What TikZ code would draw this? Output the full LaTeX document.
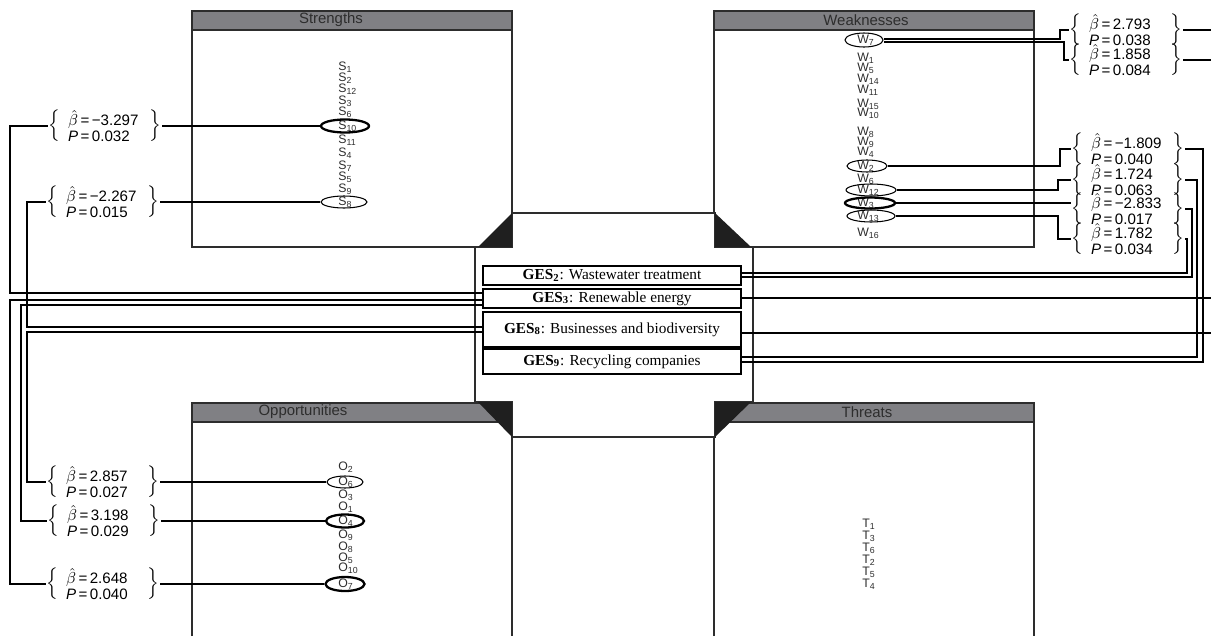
\documentclass[tikz,border=0pt]{standalone}
\usepackage{fontspec}
\setmainfont{Liberation Sans}
\newfontfamily\gesfont{Liberation Serif}
\usetikzlibrary{shapes.geometric,calc}
\definecolor{headgray}{RGB}{128,128,132}
\definecolor{inkgray}{RGB}{45,45,45}
\newcommand{\coefpair}[2]{$\left\{\vcenter{\hbox to 1.8cm{\hskip0.16cm\vbox{\hbox{$\hat{\beta}$\,=\,#1}\hbox{\textit{P}\,=\,#2}}\hss}}\right\}$}
\begin{document}
\begin{tikzpicture}
[
x=0.02cm, y=-0.02cm,
panelline/.style={draw=inkgray, line width=0.8pt},
headbox/.style={draw=inkgray, line width=0.8pt, fill=headgray},
headtext/.style={font=\fontsize{8.5}{9}\selectfont, text=inkgray, inner sep=0pt},
item/.style={font=\fontsize{7}{7}\selectfont, anchor=west, inner sep=0pt, text=inkgray},
sel/.style={ellipse, draw=black, semithick, inner sep=0pt},
selbold/.style={sel, line width=1.3pt},
gesbox/.style={draw=black, line width=0.8pt, fill=white, minimum width=5.16cm, inner sep=0pt, font=\gesfont\fontsize{8.7}{9}\selectfont},
coef/.style={inner sep=0pt, font=\fontsize{8.6}{8.9}\selectfont},
link/.style={draw=black, line width=0.7pt}
]
\useasboundingbox (0,0) rectangle (1211,636);
%Panels
\draw[panelline] (192,30) rectangle (512,247);
\draw[panelline] (714,30) rectangle (1034,247);
\draw[panelline] (192,636) -- (192,422) -- (512,422) -- (512,636);
\draw[panelline] (714,636) -- (714,422) -- (1034,422) -- (1034,636);
\draw[headbox] (192,11) rectangle (512,30);
\draw[headbox] (714,11) rectangle (1034,30);
\draw[headbox] (192,403) rectangle (512,422);
\draw[headbox] (714,403) rectangle (1034,422);
\node[headtext] at(331,20)		(hs) {Strengths};
\node[headtext] at(866,20)		(hw) {Weaknesses};
\node[headtext] at(303,412)		(ho) {Opportunities};
\node[headtext] at(867,412)		(ht) {Threats};
%Centre
\draw[panelline, fill=white] (512,213) -- (715,213) -- (715,247) -- (753,247) -- (753,402) -- (715,402) -- (715,437) -- (512,437) -- (512,402) -- (475,402) -- (475,247) -- (512,247) -- cycle;
\fill[black!88] (512,213) -- (512,247) -- (478,247) -- cycle;
\fill[black!88] (715,213) -- (715,247) -- (751,247) -- cycle;
\fill[black!88] (478,402) -- (512,402) -- (512,437) -- cycle;
\fill[black!88] (751,402) -- (715,402) -- (715,437) -- cycle;
%Nodes
\node[item] at(338,67)		(S1) {S\textsubscript{1}};
\node[item] at(338,78)		(S2) {S\textsubscript{2}};
\node[item] at(338,89)		(S12) {S\textsubscript{12}};
\node[item] at(338,101)		(S3) {S\textsubscript{3}};
\node[item] at(338,112)		(S6) {S\textsubscript{6}};
\node[item] at(338,126)		(S10) {S\textsubscript{10}};
\node[item] at(338,140)		(S11) {S\textsubscript{11}};
\node[item] at(338,153)		(S4) {S\textsubscript{4}};
\node[item] at(338,166)		(S7) {S\textsubscript{7}};
\node[item] at(338,177)		(S5) {S\textsubscript{5}};
\node[item] at(338,189)		(S9) {S\textsubscript{9}};
\node[item] at(338,202)		(S8) {S\textsubscript{8}};
\node[item] at(857,40)		(W7) {W\textsubscript{7}};
\node[item] at(857,58)		(W1) {W\textsubscript{1}};
\node[item] at(857,68)		(W5) {W\textsubscript{5}};
\node[item] at(857,79)		(W14) {W\textsubscript{14}};
\node[item] at(857,90)		(W11) {W\textsubscript{11}};
\node[item] at(857,104)		(W15) {W\textsubscript{15}};
\node[item] at(857,113)		(W10) {W\textsubscript{10}};
\node[item] at(857,132)		(W8) {W\textsubscript{8}};
\node[item] at(857,142)		(W9) {W\textsubscript{9}};
\node[item] at(857,152)		(W4) {W\textsubscript{4}};
\node[item] at(857,166)		(W2) {W\textsubscript{2}};
\node[item] at(857,179)		(W6) {W\textsubscript{6}};
\node[item] at(857,190)		(W12) {W\textsubscript{12}};
\node[item] at(857,203)		(W3) {W\textsubscript{3}};
\node[item] at(857,216)		(W13) {W\textsubscript{13}};
\node[item] at(857,233)		(W16) {W\textsubscript{16}};
\node[item] at(338,467)		(O2) {O\textsubscript{2}};
\node[item] at(338,482)		(O6) {O\textsubscript{6}};
\node[item] at(338,495)		(O3) {O\textsubscript{3}};
\node[item] at(338,507)		(O1) {O\textsubscript{1}};
\node[item] at(338,521)		(O4) {O\textsubscript{4}};
\node[item] at(338,535)		(O9) {O\textsubscript{9}};
\node[item] at(338,547)		(O8) {O\textsubscript{8}};
\node[item] at(338,558)		(O5) {O\textsubscript{5}};
\node[item] at(338,568)		(O10) {O\textsubscript{10}};
\node[item] at(338,584)		(O7) {O\textsubscript{7}};
\node[item] at(862,524)		(T1) {T\textsubscript{1}};
\node[item] at(862,536)		(T3) {T\textsubscript{3}};
\node[item] at(862,548)		(T6) {T\textsubscript{6}};
\node[item] at(862,560)		(T2) {T\textsubscript{2}};
\node[item] at(862,572)		(T5) {T\textsubscript{5}};
\node[item] at(862,584)		(T4) {T\textsubscript{4}};
\node[selbold, minimum width=0.96cm, minimum height=0.26cm] at(345,126)	(eS10) {};
\node[sel, minimum width=0.92cm, minimum height=0.24cm] at(344,202)		(eS8) {};
\node[sel, minimum width=0.76cm, minimum height=0.28cm] at(864,40)		(eW7) {};
\node[sel, minimum width=0.80cm, minimum height=0.24cm] at(867,166)		(eW2) {};
\node[sel, minimum width=1.00cm, minimum height=0.24cm] at(871,190)		(eW12) {};
\node[selbold, minimum width=1.00cm, minimum height=0.22cm] at(870,203)	(eW3) {};
\node[sel, minimum width=0.96cm, minimum height=0.24cm] at(871,216)		(eW13) {};
\node[sel, minimum width=0.72cm, minimum height=0.24cm] at(345,482)		(eO6) {};
\node[selbold, minimum width=0.76cm, minimum height=0.26cm] at(345,521)	(eO4) {};
\node[selbold, minimum width=0.78cm, minimum height=0.28cm] at(345,584)	(eO7) {};
\node[gesbox, minimum height=0.38cm] at(612,275.5)	(g2) {\textbf{GES\textsubscript{2}}: Wastewater treatment};
\node[gesbox, minimum height=0.38cm] at(612,298.5)	(g3) {\textbf{GES\textsubscript{3}}: Renewable energy};
\node[gesbox, minimum height=0.70cm] at(612,329.5)	(g8) {\textbf{GES\textsubscript{8}}: Businesses and biodiversity};
\node[gesbox, minimum height=0.50cm] at(612,361.5)	(g9) {\textbf{GES\textsubscript{9}}: Recycling companies};
\node[coef] at(105,126)		(L1) {\coefpair{−3.297}{0.032}};
\node[coef] at(103,202)		(L2) {\coefpair{−2.267}{0.015}};
\node[coef] at(103,482)		(L4) {\coefpair{2.857}{0.027}};
\node[coef] at(104,521)		(L5) {\coefpair{3.198}{0.029}};
\node[coef] at(103,584)		(L6) {\coefpair{2.648}{0.040}};
\node[coef] at(1126,30)		(R1) {\coefpair{2.793}{0.038}};
\node[coef] at(1126,60)		(R2) {\coefpair{1.858}{0.084}};
\node[coef] at(1128,149)	(A) {\coefpair{−1.809}{0.040}};
\node[coef] at(1128,180)	(B) {\coefpair{1.724}{0.063}};
\node[coef] at(1128,209)	(C) {\coefpair{−2.833}{0.017}};
\node[coef] at(1128,239)	(D) {\coefpair{1.782}{0.034}};
\coordinate (redge) at (1211,0);
%Connectors
\draw[link] (L1.east) -- (eS10.west);
\draw[link] (L2.east) -- (eS8.west);
\draw[link] (L4.east) -- (eO6.west);
\draw[link] (L5.east) -- (eO4.west);
\draw[link] (L6.east) -- (eO7.west);
\draw[link] (L1.west) -| (10,293) -- (g3.west |- 0,293);
\draw[link] (L6.west) -| (10,300) -- (g3.west |- 0,300);
\draw[link] (L5.west) -| (21,305) -- (g3.west |- 0,305);
\draw[link] (L2.west) -| (27,327) -- (g8.west |- 0,327);
\draw[link] (L4.west) -| (27,332) -- (g8.west |- 0,332);
\draw[link] ($(eW7.east)+(0,-1)$) -| ($(R1.west)+(-9,0)$) -- (R1.west);
\draw[link] ($(eW7.east)+(0,2)$) -| ($(R2.west)+(-5,0)$) -- (R2.west);
\draw[link] (eW2.east) -| ($(A.west)+(-11,0)$) -- (A.west);
\draw[link] (eW12.east) -| ($(B.west)+(-13,0)$) -- (B.west);
\draw[link] (eW3.east) -- (eW3.east -| C.west);
\draw[link] (eW13.east) -| ($(D.west)+(-13,0)$) -- (D.west);
\draw[link] (R1.east) -- (R1.east -| redge);
\draw[link] (R2.east) -- (R2.east -| redge);
\draw[link] (A.east) -| (1203,362) -- (g9.east |- 0,362);
\draw[link] (B.east) -| (1197,357) -- (g9.east |- 0,357);
\draw[link] (C.east) -| (1192,277) -- (g2.east |- 0,277);
\draw[link] (D.east) -| (1187,273) -- (g2.east |- 0,273);
\draw[link] (g3.east |- 0,298) -- (redge |- 0,298);
\draw[link] (g8.east |- 0,333) -- (redge |- 0,333);

\end{tikzpicture}
\end{document}
